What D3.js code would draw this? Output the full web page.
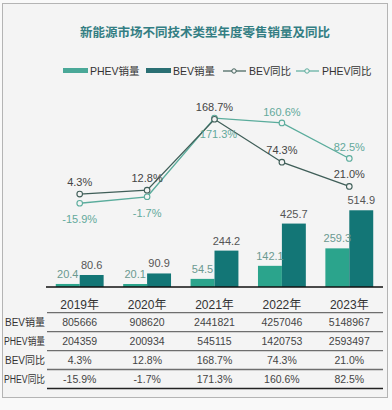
<!DOCTYPE html>
<html>
<head>
<meta charset="utf-8">
<script src="https://cdn.jsdelivr.net/npm/d3@7"></script>
<style>
  html, body { margin: 0; padding: 0; background: #f9f9f9; }
  text { font-family: "Liberation Sans", "Noto Sans CJK SC", sans-serif; }
</style>
</head>
<body>
<div id="chart"></div>
<script>
// data
const years = ["2019年", "2020年", "2021年", "2022年", "2023年"];
const phevSales = [20.4, 20.1, 54.5, 142.1, 259.3];
const bevSales = [80.6, 90.9, 244.2, 425.7, 514.9];
const bevYoY = [4.3, 12.8, 168.7, 74.3, 21.0];
const phevYoY = [-15.9, -1.7, 171.3, 160.6, 82.5];
const bevRaw = ["805666", "908620", "2441821", "4257046", "5148967"];
const phevRaw = ["204359", "200934", "545115", "1420753", "2593497"];
const rowLabels = ["BEV销量", "PHEV销量", "BEV同比", "PHEV同比"];

render();

function render() {
    const width = 392, height = 410;
    const phevColor = "#2ba48c", bevColor = "#137676";
    const bevLine = "#3f5e58", phevLine = "#5aac9c";
    const phevSide = ["below", "below", "below", "above", "above"];

    const svg = d3.select("#chart").append("svg")
        .attr("width", width)
        .attr("height", height);

    // frame
    svg.append("rect")
        .attr("x", 2.5).attr("y", 3.5)
        .attr("width", 385).attr("height", 394)
        .attr("fill", "#f4f4f4")
        .attr("stroke", "#b4b4b4");

    svg.append("text")
        .attr("x", 205).attr("y", 37)
        .attr("text-anchor", "middle")
        .style("font-size", "12.5px")
        .style("font-weight", "bold")
        .attr("fill", "#337e83")
        .text("新能源市场不同技术类型年度零售销量及同比");

    const x = d3.scaleBand().domain(years).range([46, 383])
        .paddingInner(0.29).paddingOuter(0.145);
    const xSub = d3.scaleBand().domain(["PHEV", "BEV"]).range([0, x.bandwidth()]);
    const yBar = d3.scaleLinear().domain([0, 1000]).range([287, 138]);
    const yLine = d3.scaleLinear().domain([-200, 200]).range([287, 105]);
    const cx = d => x(d) + x.bandwidth() / 2;

    // legend
    const legend = svg.append("g").style("font-size", "10.5px").attr("fill", "#333");
    legend.append("rect").attr("x", 63).attr("y", 68).attr("width", 25).attr("height", 5).attr("fill", "#4aa898");
    legend.append("text").attr("x", 90).attr("y", 75).text("PHEV销量");
    legend.append("rect").attr("x", 146).attr("y", 68).attr("width", 25).attr("height", 5).attr("fill", "#2a6f73");
    legend.append("text").attr("x", 173).attr("y", 75).text("BEV销量");
    [[223, bevLine, "BEV同比"], [296, phevLine, "PHEV同比"]].forEach(([lx, c, t]) => {
        legend.append("line").attr("x1", lx).attr("x2", lx + 23).attr("y1", 71).attr("y2", 71)
            .attr("stroke", c).attr("stroke-width", 1.2);
        legend.append("circle").attr("cx", lx + 11).attr("cy", 71).attr("r", 2.2)
            .attr("fill", "#f4f4f4").attr("stroke", c).attr("stroke-width", 1);
        legend.append("text").attr("x", lx + 26).attr("y", 75).text(t);
    });

    // bars
    const groups = svg.append("g").selectAll("g")
        .data(years).enter().append("g")
        .attr("transform", d => `translate(${x(d)},0)`);

    groups.append("rect")
        .attr("x", xSub("PHEV")).attr("width", xSub.bandwidth())
        .attr("y", (d, i) => yBar(phevSales[i]))
        .attr("height", (d, i) => yBar(0) - yBar(phevSales[i]))
        .attr("fill", phevColor);
    groups.append("rect")
        .attr("x", xSub("BEV")).attr("width", xSub.bandwidth())
        .attr("y", (d, i) => yBar(bevSales[i]))
        .attr("height", (d, i) => yBar(0) - yBar(bevSales[i]))
        .attr("fill", bevColor);

    groups.append("text")
        .attr("x", xSub("PHEV") + xSub.bandwidth() / 2)
        .attr("y", (d, i) => yBar(phevSales[i]) - 6)
        .attr("text-anchor", "middle")
        .style("font-size", "11px")
        .attr("fill", "#6b9990")
        .text((d, i) => phevSales[i].toFixed(1));
    groups.append("text")
        .attr("x", xSub("BEV") + xSub.bandwidth() / 2)
        .attr("y", (d, i) => yBar(bevSales[i]) - 6)
        .attr("text-anchor", "middle")
        .style("font-size", "11px")
        .attr("fill", "#555")
        .text((d, i) => bevSales[i].toFixed(1));

    // axis baseline
    svg.append("line")
        .attr("x1", 46).attr("x2", 383)
        .attr("y1", yBar(0)).attr("y2", yBar(0))
        .attr("stroke", "#111").attr("stroke-width", 1.5);

    // lines
    const line = d3.line().x((d, i) => cx(years[i])).y(d => yLine(d));
    [[phevYoY, phevLine], [bevYoY, bevLine]].forEach(([vals, c]) => {
        svg.append("path").datum(vals)
            .attr("d", line)
            .attr("fill", "none")
            .attr("stroke", c).attr("stroke-width", 1.3);
        svg.append("g").selectAll("circle").data(vals).enter().append("circle")
            .attr("cx", (d, i) => cx(years[i]))
            .attr("cy", d => yLine(d))
            .attr("r", 2.8)
            .attr("fill", "#f4f4f4")
            .attr("stroke", c).attr("stroke-width", 1.1);
    });

    svg.append("g").selectAll("text").data(bevYoY).enter().append("text")
        .attr("x", (d, i) => cx(years[i]))
        .attr("y", d => yLine(d) - 8)
        .attr("text-anchor", "middle")
        .style("font-size", "11px")
        .attr("fill", "#444")
        .text(d => d.toFixed(1) + "%");
    svg.append("g").selectAll("text").data(phevYoY).enter().append("text")
        .attr("x", (d, i) => cx(years[i]) + (phevSide[i] === "below" && i === 2 ? 4 : 0))
        .attr("y", (d, i) => phevSide[i] === "below" ? yLine(d) + 20 : yLine(d) - 7)
        .attr("text-anchor", "middle")
        .style("font-size", "11px")
        .attr("fill", "#63a99b")
        .text(d => d.toFixed(1) + "%");

    // data table
    const table = svg.append("g");
    table.selectAll(".yr").data(years).enter().append("text")
        .attr("x", d => cx(d)).attr("y", 308.5)
        .attr("text-anchor", "middle")
        .style("font-size", "12px")
        .attr("fill", "#333")
        .text(d => d);

    const rows = [bevRaw, phevRaw,
        bevYoY.map(v => v.toFixed(1) + "%"),
        phevYoY.map(v => v.toFixed(1) + "%")];
    const rowY = d3.scalePoint().domain(rowLabels).range([322, 379]);

    rowLabels.forEach((lab, r) => {
        const t = table.append("text")
            .attr("x", 45).attr("y", rowY(lab) + 4)
            .attr("text-anchor", "end")
            .style("font-size", "10px")
            .attr("fill", "#333")
            .text(lab);
        // squeeze labels that would not fit left of the table
        const maxW = 41;
        if (t.node().getComputedTextLength() > maxW) {
            t.attr("textLength", maxW).attr("lengthAdjust", "spacingAndGlyphs");
        }
        table.append("g").selectAll("text").data(rows[r]).enter().append("text")
            .attr("x", (d, i) => cx(years[i]))
            .attr("y", rowY(lab) + 4)
            .attr("text-anchor", "middle")
            .style("font-size", "10.5px")
            .attr("fill", "#444")
            .text(d => d);
    });

    const rules = [312.7, 331.7, 350.7, 369.5, 388.5];
    table.selectAll("line").data(rules).enter().append("line")
        .attr("x1", 47).attr("x2", 383)
        .attr("y1", d => d).attr("y2", d => d)
        .attr("stroke", (d, i) => i === rules.length - 1 ? "#222" : "#6e6e6e")
        .attr("stroke-width", 1.3);
}
</script>
</body>
</html>
